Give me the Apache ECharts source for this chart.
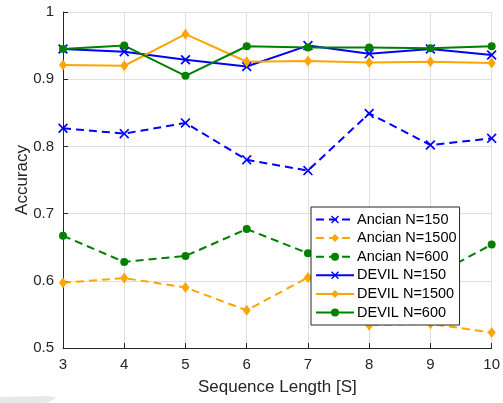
<!DOCTYPE html>
<html>
<head>
<meta charset="utf-8">
<script src="https://cdn.jsdelivr.net/npm/echarts@6/dist/echarts.min.js"></script>
<style>
html,body{margin:0;padding:0;background:#fff;}
#chart{width:503px;height:403px;}
</style>
</head>
<body>
<div id="chart"></div>
<script>
const seqLengths = [3, 4, 5, 6, 7, 8, 9, 10];
const ancianN150  = [0.827, 0.819, 0.835, 0.780, 0.764, 0.849, 0.802, 0.812];
const ancianN1500 = [0.597, 0.604, 0.590, 0.556, 0.605, 0.534, 0.536, 0.523];
const ancianN600  = [0.667, 0.628, 0.637, 0.677, 0.641, 0.625, 0.605, 0.654];
const devilN150   = [0.945, 0.941, 0.929, 0.919, 0.950, 0.938, 0.945, 0.936];
const devilN1500  = [0.921, 0.920, 0.967, 0.926, 0.927, 0.925, 0.926, 0.924];
const devilN600   = [0.945, 0.950, 0.905, 0.949, 0.947, 0.947, 0.946, 0.949];
const seriesNames = ['Ancian N=150', 'Ancian N=1500', 'Ancian N=600', 'DEVIL N=150', 'DEVIL N=1500', 'DEVIL N=600'];
const xTitle = 'Sequence Length [S]';
const yTitle = 'Accuracy';

const BLUE = '#0000ff', ORANGE = '#ffa500', GREEN = '#008000';
const X_SYM = 'path://M0,1.2 L1.2,0 L5,3.8 L8.8,0 L10,1.2 L6.2,5 L10,8.8 L8.8,10 L5,6.2 L1.2,10 L0,8.8 L3.8,5 Z';
const DIAMOND = 'diamond';
const CIRCLE = 'circle';

function mk(name, vals, color, symbol, size, dashed) {
  return {
    name: name,
    type: 'line',
    data: seqLengths.map((x, i) => [x, vals[i]]),
    symbol: symbol,
    symbolSize: size,
    showAllSymbol: true,
    itemStyle: { color: color, borderWidth: 0 },
    lineStyle: { color: color, width: 2, type: dashed ? [8, 5] : 'solid' },
    emphasis: { disabled: true },
    animation: false
  };
}

const chart = echarts.init(document.getElementById('chart'), null, { renderer: 'canvas' });
chart.setOption({
  animation: false,
  backgroundColor: '#fff',
  textStyle: { fontFamily: 'Liberation Sans, Arial, sans-serif' },
  grid: { left: 63, right: 10, top: 12, bottom: 55, containLabel: false },
  xAxis: {
    type: 'value', min: 3, max: 10, interval: 1,
    name: xTitle, nameLocation: 'middle', nameGap: 31, nameMoveOverlap: false,
    nameTextStyle: { fontSize: 17, color: '#262626', fontFamily: 'Liberation Sans, Arial, sans-serif' },
    axisLine: { show: true, lineStyle: { color: '#262626', width: 1 } },
    axisTick: { show: true, inside: true, length: 5, lineStyle: { color: '#262626' } },
    axisLabel: { fontSize: 15, color: '#262626', margin: 9 },
    splitLine: { show: true, lineStyle: { color: '#dfdfdf', width: 1 } }
  },
  yAxis: {
    type: 'value', min: 0.5, max: 1, interval: 0.1,
    name: yTitle, nameLocation: 'middle', nameGap: 32, nameMoveOverlap: false,
    nameTextStyle: { fontSize: 17, color: '#262626', fontFamily: 'Liberation Sans, Arial, sans-serif' },
    axisLine: { show: true, lineStyle: { color: '#262626', width: 1 } },
    axisTick: { show: true, inside: true, length: 5, lineStyle: { color: '#262626' } },
    axisLabel: { fontSize: 15, color: '#262626', margin: 9, formatter: v => String(Math.round(v * 10) / 10) },
    splitLine: { show: true, lineStyle: { color: '#dfdfdf', width: 1 } }
  },
  legend: {
    data: seriesNames,
    orient: 'vertical',
    left: 311, top: 207,
    padding: [5, 3, 5, 4],
    itemWidth: 38, itemHeight: 10, itemGap: 3.6,
    backgroundColor: '#fff',
    borderColor: '#262626', borderWidth: 1,
    textStyle: { fontSize: 14.5, lineHeight: 14, color: '#000', padding: [0, 0, 0, -2] },
    selectedMode: false
  },
  graphic: [{
    type: 'polygon',
    shape: { points: [[0, 397], [48, 396], [57, 398], [46, 403], [0, 403]] },
    style: { fill: '#e8e8e8' },
    silent: true
  }],
  series: [
    mk(seriesNames[0], ancianN150, BLUE, X_SYM, 10, true),
    mk(seriesNames[1], ancianN1500, ORANGE, DIAMOND, [8, 11], true),
    mk(seriesNames[2], ancianN600, GREEN, CIRCLE, 8, true),
    mk(seriesNames[3], devilN150, BLUE, X_SYM, 10, false),
    mk(seriesNames[4], devilN1500, ORANGE, DIAMOND, [8, 11], false),
    mk(seriesNames[5], devilN600, GREEN, CIRCLE, 8, false)
  ]
});
</script>
</body>
</html>
